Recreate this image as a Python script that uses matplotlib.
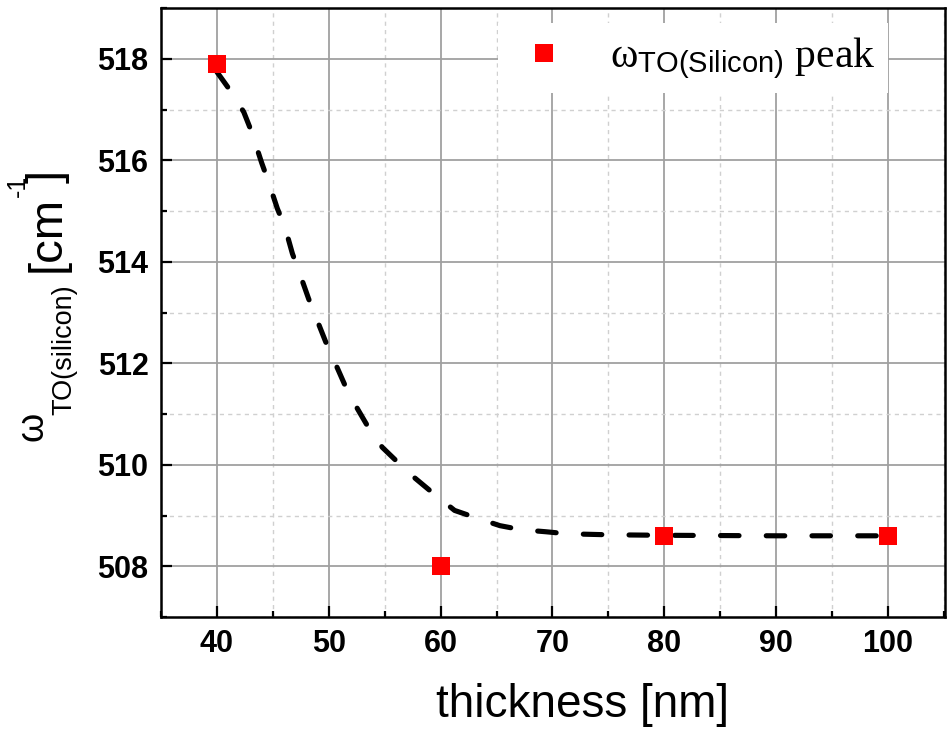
import matplotlib
matplotlib.use("Agg")
import matplotlib.pyplot as plt
from matplotlib.ticker import MultipleLocator

# data
thickness = [40, 60, 80, 100]
omega_peak = [517.9, 508.0, 508.6, 508.6]

# fitted (dashed) curve
fit_x = [40, 41.3, 42.4, 43.1, 44.0, 44.65, 45.4, 46.1, 46.75, 47.4, 48.2, 48.9,
         49.8, 50.6, 51.6, 52.6, 53.9, 54.8, 57.2, 59.0, 61.25, 63.1, 65.3, 67.2,
         69.4, 71.3, 75, 80, 90, 100]
fit_y = [517.74, 517.34, 516.95, 516.56, 515.95, 515.55, 515.05, 514.67, 514.16, 513.77,
         513.27, 512.88, 512.38, 511.99, 511.49, 511.09, 510.6, 510.34, 509.83, 509.5,
         509.1, 508.96, 508.8, 508.72, 508.68, 508.64, 508.62, 508.61, 508.6, 508.6]

xticks = [40, 50, 60, 70, 80, 90, 100]
yticks = [508, 510, 512, 514, 516, 518]

plt.rcParams['mathtext.fontset'] = 'custom'
plt.rcParams['mathtext.rm'] = 'Liberation Serif'
plt.rcParams['mathtext.sf'] = 'Liberation Sans'
plt.rcParams['mathtext.it'] = 'Liberation Serif:italic'

W, H = 950, 732
fig = plt.figure(figsize=(W / 100, H / 100), dpi=100)
L, R, T, B = 161, 945, 8, 617
ax = fig.add_axes([L / W, 1 - B / H, (R - L) / W, (B - T) / H])

ax.plot(fit_x, fit_y, color='black', lw=3.7, dashes=(3.6, 5.3),
        dash_capstyle='round', zorder=3)
ax.plot(thickness, omega_peak, linestyle='none', marker='s', markersize=13.5,
        color='#ff0000', markeredgewidth=0, zorder=4,
        label=r'$\mathrm{ω}_{\mathsf{TO(Silicon)}}$ peak')

ax.set_xlim(35, 105.1)
ax.set_ylim(507.0, 519.0)
ax.set_xticks(xticks)
ax.set_yticks(yticks)
ax.xaxis.set_minor_locator(MultipleLocator(5))
ax.yaxis.set_minor_locator(MultipleLocator(1))

ax.grid(which='major', color='#a0a0a0', lw=1.3, zorder=0)
ax.grid(which='minor', color='#d0d0d0', lw=1.0, ls=(0, (3, 3)), zorder=0)
ax.set_axisbelow(True)

for s in ax.spines.values():
    s.set_linewidth(1.8)
ax.tick_params(which='both', direction='in', top=False, right=False, width=1.6)
ax.tick_params(which='major', length=8, pad=9)
ax.tick_params(which='minor', length=4.5)
for lab in ax.get_xticklabels() + ax.get_yticklabels():
    lab.set_fontfamily('Liberation Sans')
    lab.set_fontweight('bold')
    lab.set_fontsize(22)

ax.set_xlabel('thickness [nm]', fontfamily='Liberation Sans', fontsize=33)
ax.xaxis.set_label_coords((582.5 - L) / (R - L), (B - 717) / (B - T))
ax.xaxis.label.set_va('baseline')

# y label pieces
def ftext(px, py, s, size, family='Liberation Sans'):
    fig.text(px / W, 1 - py / H, s, rotation=90, rotation_mode='anchor',
             ha='left', va='baseline', fontsize=size, fontfamily=family)

ftext(43, 441, 'ω', 27)
ftext(71, 415, 'TO(silicon)', 19.5)
ftext(60, 272, '[cm', 34)
ftext(25, 197, '-1', 18)
ftext(60, 183, ']', 34)

fs_leg = 30
leg = ax.legend(loc='upper left', bbox_to_anchor=((498 - L) / (R - L), (B - 23) / (B - T)),
                prop={'family': 'Liberation Serif', 'size': fs_leg}, frameon=True,
                facecolor='white', edgecolor='none', framealpha=1, fancybox=False,
                numpoints=1, borderpad=0.3, borderaxespad=0, handlelength=1.6,
                handletextpad=0.8)

fig.savefig('out.png', dpi=100)
